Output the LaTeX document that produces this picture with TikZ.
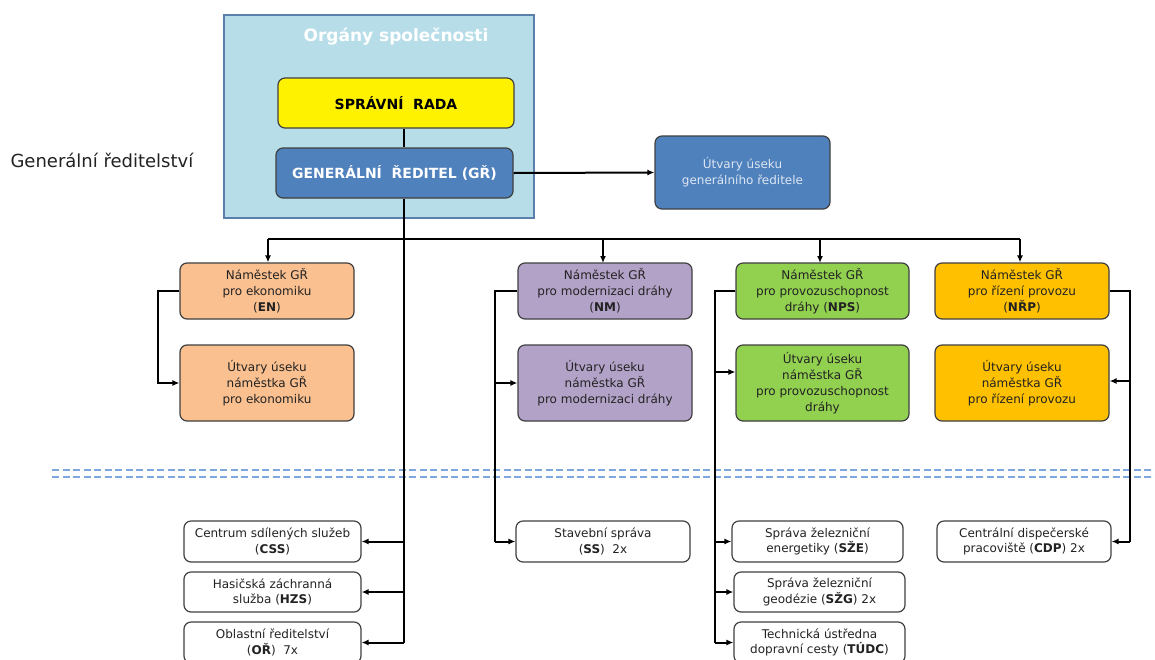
\documentclass[tikz,border=0pt]{standalone}
\usepackage{fontspec}
\setmainfont{DejaVu Sans}
\usetikzlibrary{arrows.meta,calc}
\definecolor{orgfill}{HTML}{B7DEE8}
\definecolor{orgline}{HTML}{5B7FAD}
\definecolor{grblue}{HTML}{4F81BD}
\definecolor{enfill}{HTML}{FAC090}
\definecolor{nmfill}{HTML}{B3A2C7}
\definecolor{npsfill}{HTML}{92D050}
\definecolor{nrpfill}{HTML}{FFC000}
\definecolor{dashblue}{HTML}{7FA7DF}
\definecolor{txt}{HTML}{222222}
\definecolor{lighttxt}{HTML}{DCE6F2}
\tikzset{
  box/.style={draw=black!75, line width=1.2pt, rounded corners=7pt, align=center, inner sep=0pt,
    text=txt, font=\fontsize{12}{16}\selectfont},
  smallbox/.style={box, fill=white, font=\fontsize{12}{15.5}\selectfont},
  conn/.style={line width=2pt, black},
  arr/.style={conn, -{Latex[length=7pt,width=6pt]}},
}
\begin{document}
\begin{tikzpicture}[x=1pt,y=-1pt]
\useasboundingbox (0,0) rectangle (1155,659);
\clip (0,0) rectangle (1155,659);
\fill[white] (0,0) rectangle (1155,659);

% dashed separators
\draw[dashblue, line width=1.5pt, dash pattern=on 7pt off 3.5pt] (52,470) -- (1155,470);
\draw[dashblue, line width=1.5pt, dash pattern=on 7pt off 3.5pt] (52,477) -- (1155,477);

\node[anchor=west, font=\fontsize{18}{21}\selectfont, text=txt] (gred) at (7,160) {Generální ředitelství};

\node[draw=orgline, line width=1.2pt, fill=orgfill, minimum width=310pt, minimum height=203pt, inner sep=0pt] (org) at (379,116.5) {};
\node[text=white, font=\bfseries\fontsize{17}{20}\selectfont] (orgt) at (396,37) {Orgány společnosti};

\node[box, fill=yellow, minimum width=236pt, minimum height=50pt, text=black, font=\bfseries\fontsize{14}{16}\selectfont] (sr) at (396,103) {SPRÁVNÍ\ \ RADA};
\node[box, fill=grblue, minimum width=237pt, minimum height=50pt, text=white, font=\bfseries\fontsize{14}{16}\selectfont] (gr) at (394.5,173) {GENERÁLNÍ\ \ ŘEDITEL (GŘ)};
\node[box, fill=grblue, minimum width=175pt, minimum height=73pt, text=lighttxt] (ugr) at (742.5,172.5) {Útvary úseku\\generálního ředitele};

\node[box, fill=enfill, minimum width=174pt, minimum height=56pt] (en) at (267,291) {Náměstek GŘ\\pro ekonomiku\\(\textbf{EN})};
\node[box, fill=enfill, minimum width=174pt, minimum height=76pt] (uen) at (267,383) {Útvary úseku\\náměstka GŘ\\pro ekonomiku};
\node[box, fill=nmfill, minimum width=174pt, minimum height=56pt] (nm) at (605,291) {Náměstek GŘ\\pro modernizaci dráhy\\(\textbf{NM})};
\node[box, fill=nmfill, minimum width=174pt, minimum height=76pt] (unm) at (605,383) {Útvary úseku\\náměstka GŘ\\pro modernizaci dráhy};
\node[box, fill=npsfill, minimum width=173pt, minimum height=56pt] (nps) at (822.5,291) {Náměstek GŘ\\pro provozuschopnost\\dráhy (\textbf{NPS})};
\node[box, fill=npsfill, minimum width=173pt, minimum height=76pt] (unps) at (822.5,383) {Útvary úseku\\náměstka GŘ\\pro provozuschopnost\\dráhy};
\node[box, fill=nrpfill, minimum width=174pt, minimum height=56pt] (nrp) at (1022,291) {Náměstek GŘ\\pro řízení provozu\\(\textbf{NŘP})};
\node[box, fill=nrpfill, minimum width=174pt, minimum height=76pt] (unrp) at (1022,383) {Útvary úseku\\náměstka GŘ\\pro řízení provozu};

\node[smallbox, minimum width=177pt, minimum height=41pt] (css) at (272.5,541.5) {Centrum sdílených služeb\\(\textbf{CSS})};
\node[smallbox, minimum width=177pt, minimum height=40pt] (hzs) at (272.5,592) {Hasičská záchranná\\služba (\textbf{HZS})};
\node[smallbox, minimum width=177pt, minimum height=41pt] (or) at (272.5,642.5) {Oblastní ředitelství\\(\textbf{OŘ})\ \ 7x};
\node[smallbox, minimum width=174pt, minimum height=41pt] (ss) at (603,541.5) {Stavební správa\\(\textbf{SS})\ \ 2x};
\node[smallbox, minimum width=171pt, minimum height=41pt] (sze) at (817.5,541.5) {Správa železniční\\energetiky (\textbf{SŽE})};
\node[smallbox, minimum width=171pt, minimum height=40pt] (szg) at (819.5,592) {Správa železniční\\geodézie (\textbf{SŽG}) 2x};
\node[smallbox, minimum width=171pt, minimum height=41pt] (tudc) at (819.5,642.5) {Technická ústředna\\dopravní cesty (\textbf{TÚDC})};
\node[smallbox, minimum width=174pt, minimum height=41pt] (cdp) at (1024,541.5) {Centrální dispečerské\\pracoviště (\textbf{CDP}) 2x};

% coordinates
\coordinate (vg) at (404,239);
\coordinate (busl) at (268,239);
\coordinate (busr) at (1020,239);
\coordinate (xen) at (158,0);
\coordinate (xnm) at (495,0);
\coordinate (xnps) at (715,0);
\coordinate (xnrp) at (1130,0);

% top connectors
\draw[conn] (sr.south -| vg) -- (gr.north -| vg);
\draw[arr] (gr.east) -- (ugr.west);
\draw[conn] (gr.south -| vg) -- (vg |- or.east);
\draw[conn] (busl) -- (busr);
\draw[arr] (busl) -- (busl |- en.north);
\draw[arr] (603,239) -- (603,263);
\draw[arr] (820,239) -- (820,263);
\draw[arr] (busr) -- (busr |- nrp.north);

% EN bracket
\draw[arr] (en.west) -- (xen |- en.west) -- (xen |- uen.west) -- (uen.west);
% NM
\draw[conn] (nm.west) -- (xnm |- nm.west) -- (xnm |- ss.west);
\draw[arr] (xnm |- unm.west) -- (unm.west);
\draw[arr] (xnm |- ss.west) -- (ss.west);
% NPS
\draw[conn] (nps.west) -- (xnps |- nps.west) -- (xnps |- tudc.west);
\draw[arr] (xnps |- 0,372) -- (unps.west |- 0,372);
\draw[arr] (xnps |- sze.west) -- (sze.west);
\draw[arr] (xnps |- szg.west) -- (szg.west);
\draw[arr] (xnps |- tudc.west) -- (tudc.west);
% NRP
\draw[conn] (nrp.east) -- (xnrp |- nrp.east) -- (xnrp |- cdp.east);
\draw[arr] (xnrp |- 0,381) -- (unrp.east |- 0,381);
\draw[arr] (xnrp |- cdp.east) -- (cdp.east);
% GR left branches
\draw[arr] (vg |- css.east) -- (css.east);
\draw[arr] (vg |- hzs.east) -- (hzs.east);
\draw[arr] (vg |- or.east) -- (or.east);
\end{tikzpicture}
\end{document}
